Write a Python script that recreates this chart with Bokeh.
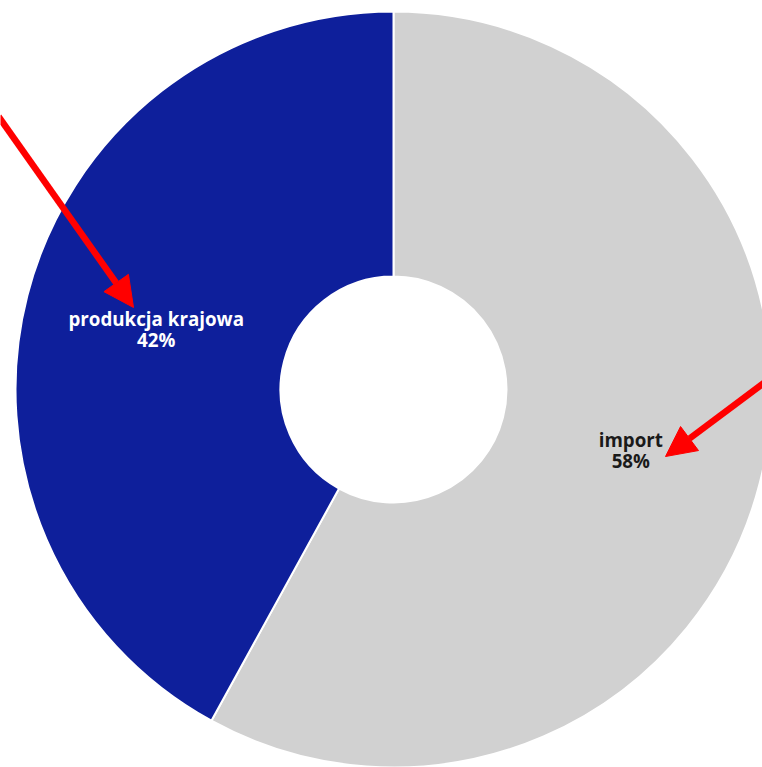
import math
from bokeh.plotting import figure
from bokeh.models import Range1d, Arrow, NormalHead, ColumnDataSource
from bokeh.core.properties import value
from bokeh.embed import file_html
from bokeh.resources import INLINE

categories = ["import", "produkcja krajowa"]
shares = [58, 42]
colors = ["#d1d1d1", "#0e1f9b"]
label_colors = ["#1a1a1a", "#ffffff"]

W, H = 762, 767
cx, cy = 393, H - 389
r_out, r_in = 378, 113

p = figure(width=W, height=H, output_backend="svg", toolbar_location=None,
           x_range=Range1d(0, W), y_range=Range1d(0, H), min_border=0)
p.axis.visible = False
p.grid.visible = False
p.outline_line_color = None
p.background_fill_color = "white"

total = sum(shares)
start = math.pi / 2
starts, ends, lx, ly, labels = [], [], [], [], []
for s, c in zip(shares, categories):
    sweep = 2 * math.pi * s / total
    end = start - sweep
    starts.append(start)
    ends.append(end)
    mid = (start + end) / 2
    lx.append(cx + 245 * math.cos(mid))
    ly.append(cy + 243 * math.sin(mid))
    labels.append(f"{c}\n{s}%")
    start = end

src = ColumnDataSource(dict(start=starts, end=ends, color=colors,
                            lx=lx, ly=ly, label=labels, lc=label_colors))
p.annular_wedge(x=cx, y=cy, inner_radius=r_in, outer_radius=r_out,
                start_angle="start", end_angle="end", direction="clock",
                fill_color="color", line_color="white", line_width=2, source=src)
p.text(x="lx", y="ly", text="label", source=src, text_color="lc",
       text_font=value("Open Sans"), text_font_style="bold", text_font_size="18.75px",
       text_align="center", text_baseline="middle", text_line_height=0.82)

for (x0, y0, x1, y1) in [(-2, 116, 133, 307), (764, 382, 665, 456)]:
    p.add_layout(Arrow(end=NormalHead(size=30, fill_color="red", line_color="red"),
                       x_start=x0, y_start=H - y0, x_end=x1, y_end=H - y1,
                       line_color="red", line_width=6.5))

open("out.html", "w").write(file_html(p, INLINE))
